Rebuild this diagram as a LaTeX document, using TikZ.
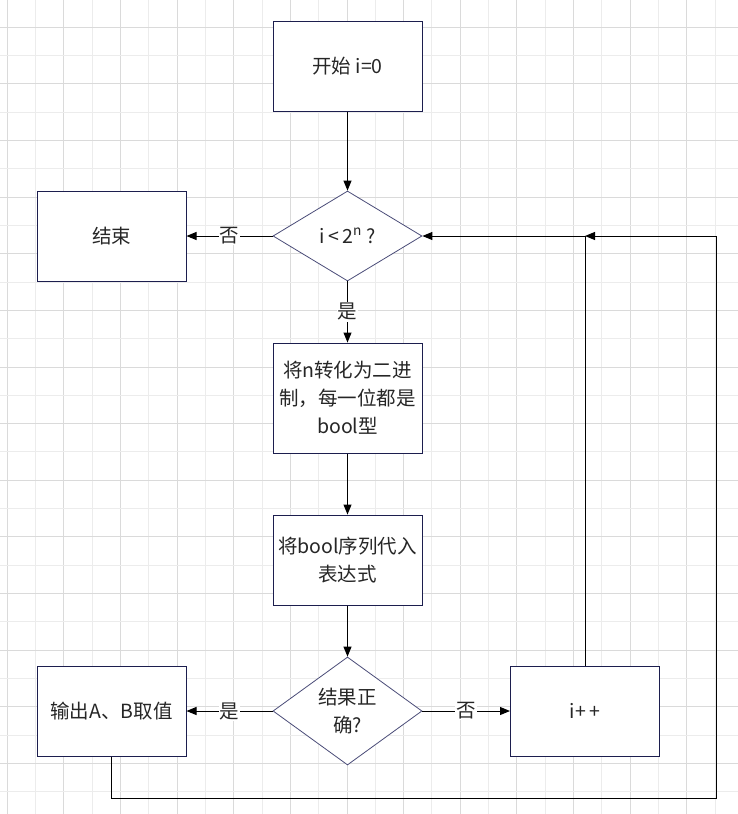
\documentclass[tikz,border=0pt]{standalone}
\usepackage{fontspec}
\setmainfont{Noto Sans CJK SC}
\usetikzlibrary{shapes.geometric,arrows.meta}

\definecolor{boxline}{HTML}{1C1E4E}
\definecolor{dialine}{HTML}{4A4C78}
\definecolor{gridmajor}{HTML}{DADADA}
\definecolor{gridminor}{HTML}{ECECEC}

\tikzset{
  stepbox/.style={draw=boxline, line width=1pt, fill=white, minimum width=149pt,
    minimum height=90pt, inner sep=0pt, align=center, text=black!85},
  testbox/.style={diamond, draw=dialine, line width=0.8pt, fill=white, inner sep=0pt,
    minimum width=149pt, align=center, text=black!85},
  flow/.style={line width=1pt, -{Triangle[length=10pt,width=8pt]}},
  tag/.style={fill=white, inner sep=1pt, text=black!85}
}

\begin{document}
\begin{tikzpicture}[x=1pt, y=-1pt, font=\fontsize{19.5}{28}\selectfont]
\useasboundingbox (0,0) rectangle (738,814);
% grid
\foreach \k in {0,...,26} {
  \pgfmathsetmacro{\gx}{7.3+28.31*\k}
  \ifodd\k \def\gc{gridminor}\else \def\gc{gridmajor}\fi
  \draw[\gc, line width=1pt] (\gx,0) -- (\gx,814);
}
\foreach \k in {-1,...,28} {
  \pgfmathsetmacro{\gy}{27.3+28.31*\k}
  \ifodd\k \def\gc{gridminor}\else \def\gc{gridmajor}\fi
  \draw[\gc, line width=1pt] (0,\gy) -- (738,\gy);
}

\node[stepbox] (start) at (347.5,66) {开始 i=0};
\node[testbox, minimum height=90pt] (loop) at (347.5,236) {i\,<\,2\textsuperscript{n} ?};
\node[stepbox] (stop) at (111.5,236) {结束};
\node[stepbox, minimum height=110pt] (conv) at (347.5,398) {将n转化为二进\\制，每一位都是\\bool型};
\node[stepbox] (subst) at (347.5,560) {将bool序列代入\\表达式};
\node[testbox, minimum height=108pt] (check) at (347.5,711) {结果正\\确?};
\node[stepbox] (out) at (111.5,711) {输出A、B取值};
\node[stepbox] (inc) at (585,711) {i+\,+};

\coordinate (join) at (inc.north |- loop.east);
\coordinate (cornerB) at (716,798);
\coordinate (cornerT) at (716,236);

\draw[flow] (start) -- (loop);
\draw[flow] (loop) -- node[tag] {否} (stop);
\draw[flow] (loop) -- node[tag] {是} (conv);
\draw[flow] (conv) -- (subst);
\draw[flow] (subst) -- (check);
\draw[flow] (check) -- node[tag] {是} (out);
\draw[flow] (check) -- node[tag] {否} (inc);
\draw[flow] (inc.north) -- (join) -- (loop.east);
\draw[flow] (out.south) |- (cornerB) -- (cornerT) -- (join);
\end{tikzpicture}
\end{document}
